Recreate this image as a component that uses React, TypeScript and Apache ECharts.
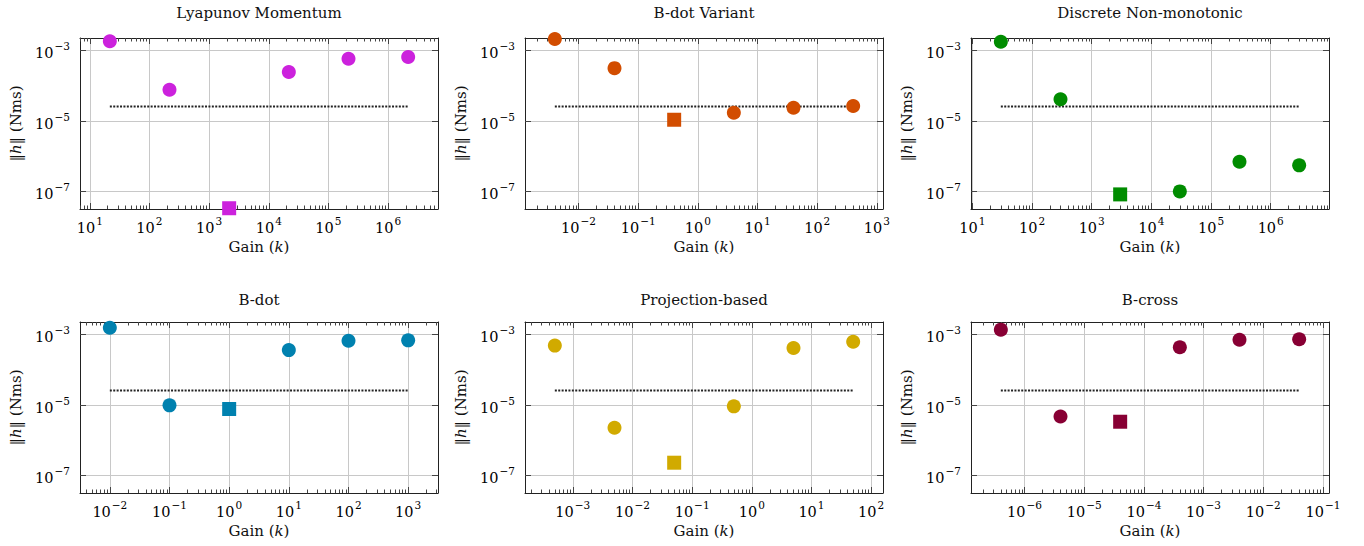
import React, { useEffect, useRef } from "react";
import * as echarts from "echarts";

// ---------- data ----------
const panelTitles = [
  "Lyapunov Momentum",
  "B-dot Variant",
  "Discrete Non-monotonic",
  "B-dot",
  "Projection-based",
  "B-cross",
];
const panelColors = ["#CC22DD", "#D24D00", "#008C00", "#0081AF", "#D1AA00", "#880034"];

const gainsLyapunov = [21.7, 217, 2170, 21700, 217000, 2170000];
const gainsBdotVariant = [0.004, 0.04, 0.4, 4, 40, 400];
const gainsDiscrete = [30, 300, 3000, 30000, 300000, 3000000];
const gainsBdot = [0.01, 0.1, 1, 10, 100, 1000];
const gainsProjection = [0.0005, 0.005, 0.05, 0.5, 5, 50];
const gainsBcross = [4e-7, 4e-6, 4e-5, 4e-4, 4e-3, 4e-2];

const hLyapunov = [1.85e-3, 7.8e-5, 3.4e-8, 2.49e-4, 5.9e-4, 6.6e-4];
const hBdotVariant = [2.15e-3, 3.2e-4, 1.1e-5, 1.74e-5, 2.4e-5, 2.7e-5];
const hDiscrete = [1.8e-3, 4.2e-5, 8.4e-8, 1.02e-7, 7.1e-7, 5.6e-7];
const hBdot = [1.58e-3, 9.9e-6, 7.8e-6, 3.66e-4, 6.75e-4, 6.9e-4];
const hProjection = [4.9e-4, 2.3e-6, 2.34e-7, 9.3e-6, 4.2e-4, 6.3e-4];
const hBcross = [1.39e-3, 4.8e-6, 3.4e-6, 4.4e-4, 7.2e-4, 7.4e-4];

const panelGains = [gainsLyapunov, gainsBdotVariant, gainsDiscrete, gainsBdot, gainsProjection, gainsBcross];
const panelH = [hLyapunov, hBdotVariant, hDiscrete, hBdot, hProjection, hBcross];

const threshold = 2.6e-5; // dotted reference line
const bestIndex = 2; // square marker
const yTickValues = [1e-7, 1e-5, 1e-3];
const yMinExp = -7.49;
const yMaxExp = -2.64;
const xEnlarge = 0.1;

// ---------- layout ----------
const gridLefts = [80, 525, 971];
const gridTops = [38, 322];
const gridW = 358;
const gridH = 171;
const titleTops = [5, 292];

const FONT = "DejaVu Serif";
const TICK_COLOR = "#444";
const FRAME_COLOR = "#222";
const GRID_COLOR = "#c8c8c8";

function expLabel(value: number) {
  const e = Math.round(Math.log10(value));
  const s = e < 0 ? "\u2212" + String(-e) : String(e);
  return "{b|10}{s|" + s + "}";
}

const labelRich = {
  b: { fontFamily: FONT, fontSize: 14.5, color: "#000", verticalAlign: "bottom", padding: [5, 0, 0, 0] },
  s: { fontFamily: FONT, fontSize: 10.5, color: "#000", verticalAlign: "top", padding: [0, 0, 0, 1] },
};

function buildOption() {
  const grid: any[] = [];
  const xAxis: any[] = [];
  const yAxis: any[] = [];
  const series: any[] = [];
  const title: any[] = [];

  panelTitles.forEach((name, p) => {
    const col = p % 3;
    const row = Math.floor(p / 3);
    const gains = panelGains[p];
    const hs = panelH[p];
    const lo = Math.log10(gains[0]);
    const hi = Math.log10(gains[gains.length - 1]);
    const span = hi - lo;
    const minExp = lo - xEnlarge * span;
    const maxExp = hi + xEnlarge * span;
    const xmin = Math.pow(10, minExp);
    const xmax = Math.pow(10, maxExp);

    const decades: number[] = [];
    const minors: number[] = [];
    for (let n = Math.floor(minExp) - 1; n <= Math.ceil(maxExp) + 1; n++) {
      const d = Math.pow(10, n);
      if (n >= minExp && n <= maxExp) decades.push(d);
      for (let m = 2; m <= 9; m++) {
        const v = m * d;
        const lv = Math.log10(v);
        if (lv > minExp && lv < maxExp) minors.push(v);
      }
    }

    grid.push({
      left: gridLefts[col],
      top: gridTops[row],
      width: gridW,
      height: gridH,
      containLabel: false,
    });

    title.push({
      text: name,
      left: gridLefts[col] + gridW / 2,
      top: titleTops[row],
      textAlign: "center",
      padding: 0,
      textStyle: { fontFamily: FONT, fontSize: 15, fontWeight: "normal", color: "#111" },
    });

    const base = {
      gridIndex: p,
      type: "log",
      logBase: 10,
      min: xmin,
      max: xmax,
    };
    // major bottom with labels
    xAxis.push({
      ...base,
      position: "bottom",
      axisLine: { show: true, onZero: false, lineStyle: { color: FRAME_COLOR, width: 1 } },
      axisTick: { show: true, inside: true, length: 6, customValues: decades, lineStyle: { color: TICK_COLOR } },
      axisLabel: {
        show: true,
        customValues: decades,
        formatter: expLabel,
        margin: 6,
        rich: labelRich,
        showMinLabel: true,
        showMaxLabel: true,
      },
      splitLine: { show: true, lineStyle: { color: GRID_COLOR, width: 1 } },
      minorTick: { show: false },
      name: "Gain ({i|k})",
      nameLocation: "middle",
      nameGap: 30,
      nameTextStyle: {
        fontFamily: FONT,
        fontSize: 15,
        color: "#111",
        rich: { i: { fontFamily: FONT, fontSize: 15, fontStyle: "italic", color: "#111" } },
      },
    });
    // major top
    xAxis.push({
      ...base,
      position: "top",
      axisLine: { show: true, onZero: false, lineStyle: { color: FRAME_COLOR, width: 1 } },
      axisTick: { show: true, inside: true, length: 6, customValues: decades, lineStyle: { color: TICK_COLOR } },
      axisLabel: { show: false },
      splitLine: { show: false },
    });
    // minor bottom
    xAxis.push({
      ...base,
      position: "bottom",
      axisLine: { show: false, onZero: false },
      axisTick: { show: true, inside: true, length: 3.5, customValues: minors, lineStyle: { color: TICK_COLOR } },
      axisLabel: { show: false },
      splitLine: { show: false },
    });
    // minor top
    xAxis.push({
      ...base,
      position: "top",
      axisLine: { show: false, onZero: false },
      axisTick: { show: true, inside: true, length: 3.5, customValues: minors, lineStyle: { color: TICK_COLOR } },
      axisLabel: { show: false },
      splitLine: { show: false },
    });

    const ybase = {
      gridIndex: p,
      type: "log",
      logBase: 10,
      min: Math.pow(10, yMinExp),
      max: Math.pow(10, yMaxExp),
    };
    yAxis.push({
      ...ybase,
      position: "left",
      axisLine: { show: true, onZero: false, lineStyle: { color: FRAME_COLOR, width: 1 } },
      axisTick: { show: true, inside: true, length: 6, customValues: yTickValues, lineStyle: { color: TICK_COLOR } },
      axisLabel: {
        show: true,
        customValues: yTickValues,
        formatter: expLabel,
        margin: 10,
        rich: labelRich,
      },
      splitLine: { show: true, lineStyle: { color: GRID_COLOR, width: 1 } },
      name: "\u2016{i|h}\u2016 (Nms)",
      nameLocation: "middle",
      nameGap: 57,
      nameRotate: 90,
      nameTextStyle: {
        fontFamily: FONT,
        fontSize: 15,
        color: "#111",
        rich: { i: { fontFamily: FONT, fontSize: 15, fontStyle: "italic", color: "#111" } },
      },
    });
    yAxis.push({
      ...ybase,
      position: "right",
      axisLine: { show: true, onZero: false, lineStyle: { color: FRAME_COLOR, width: 1 } },
      axisTick: { show: true, inside: true, length: 6, customValues: yTickValues, lineStyle: { color: TICK_COLOR } },
      axisLabel: { show: false },
      splitLine: { show: false },
    });

    series.push({
      type: "line",
      xAxisIndex: p * 4,
      yAxisIndex: p * 2,
      data: [
        [gains[0], threshold],
        [gains[gains.length - 1], threshold],
      ],
      symbol: "none",
      lineStyle: { color: "#222", width: 2, type: [2, 1.4] },
      z: 3,
      silent: true,
    });
    series.push({
      type: "scatter",
      xAxisIndex: p * 4,
      yAxisIndex: p * 2,
      clip: false,
      z: 5,
      data: gains.map((g, i) => ({
        value: [g, hs[i]],
        symbol: i === bestIndex ? "rect" : "circle",
        symbolSize: 14,
      })),
      itemStyle: { color: panelColors[p], opacity: 1 },
    });
  });

  return {
    animation: false,
    backgroundColor: "#ffffff",
    title,
    grid,
    xAxis,
    yAxis,
    series,
  };
}

export default function App() {
  const ref = useRef<HTMLDivElement>(null);
  useEffect(() => {
    if (!ref.current) return;
    const chart = echarts.init(ref.current, undefined, { renderer: "svg" });
    chart.setOption(buildOption() as any);
    return () => chart.dispose();
  }, []);
  return (
    <div
      ref={ref}
      style={{ position: "fixed", left: 0, top: 0, width: 1364, height: 546, background: "#fff" }}
    />
  );
}
